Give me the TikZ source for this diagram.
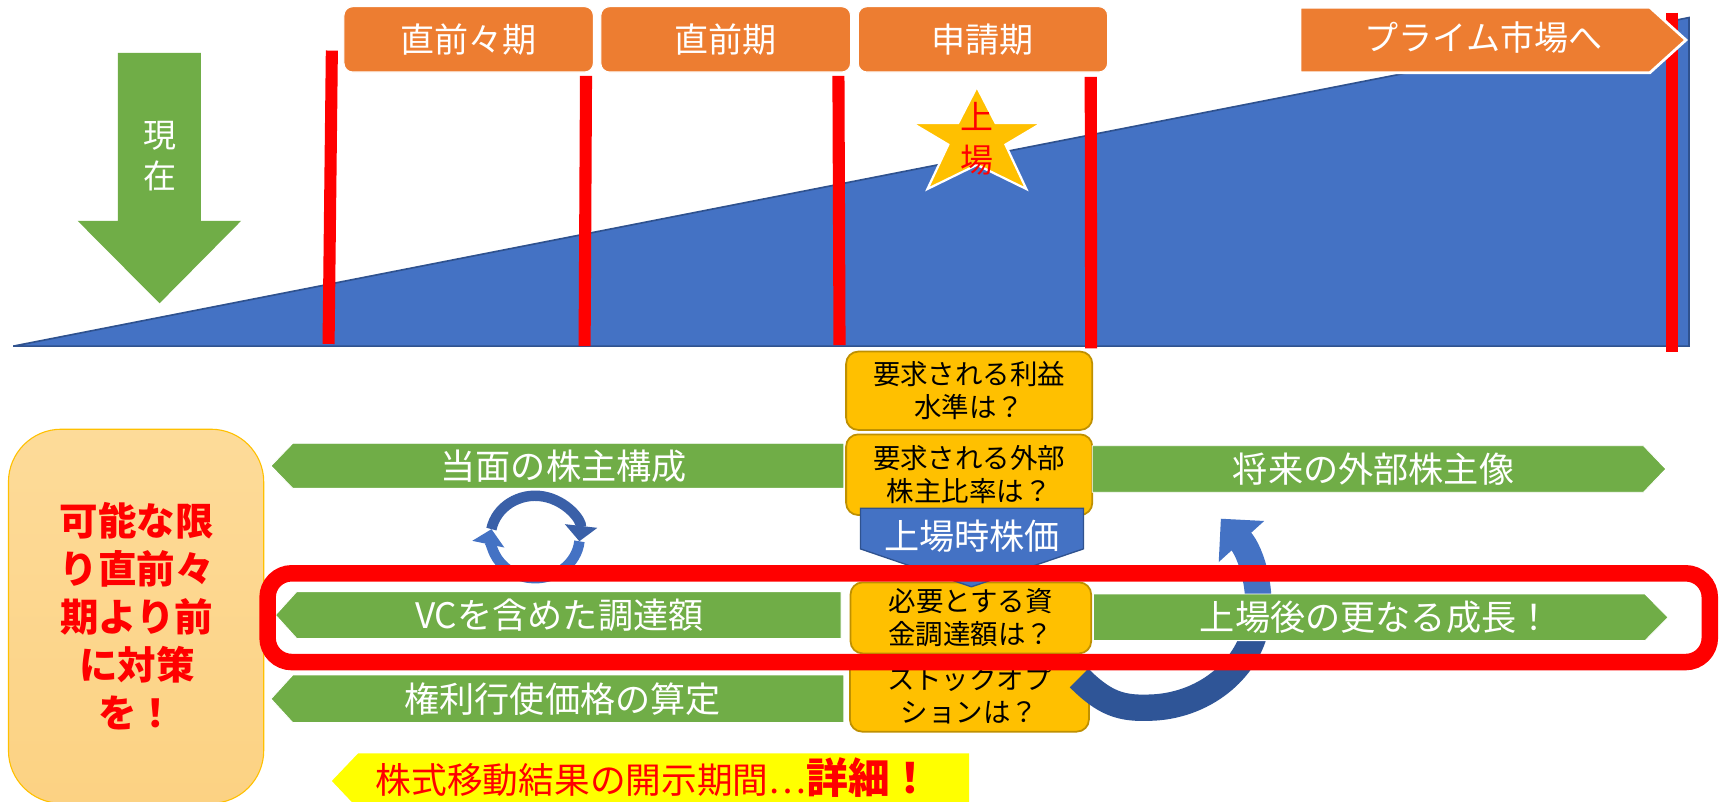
\documentclass[tikz,border=0pt]{standalone}
\usepackage{fontspec}
\setmainfont{Noto Sans CJK JP}
\usetikzlibrary{arrows.meta}
\definecolor{pblue}{HTML}{4472C4}
\definecolor{pblueD}{HTML}{2F528F}
\definecolor{pdarkblue}{HTML}{2F5597}
\definecolor{ringdark}{HTML}{3A60A8}
\definecolor{porange}{HTML}{ED7D31}
\definecolor{pgreen}{HTML}{70AD47}
\definecolor{pgold}{HTML}{FFC000}
\definecolor{pgoldD}{HTML}{BF9000}
\definecolor{pred}{HTML}{FF0000}
\definecolor{pyellow}{HTML}{FFFF00}
\definecolor{tantop}{HTML}{FDDB99}
\definecolor{tanbot}{HTML}{FCD283}
\tikzset{
  every node/.style={inner sep=0pt, outer sep=0pt},
  period/.style={fill=porange, draw=white, line width=1pt, rounded corners=8pt,
    minimum width=227pt, minimum height=59.5pt, text=white, font=\fontsize{31}{36}\selectfont},
  redbar/.style={draw=pred, line width=11pt},
  ybox/.style={fill=pgold, draw=pgoldD, line width=1.6pt, rounded corners=11pt,
    align=center, text=black, font=\fontsize{25}{30}\selectfont},
  garrow/.style={fill=pgreen, draw=white, line width=0.8pt},
  gtext/.style={text=white, font=\fontsize{32}{36}\selectfont},
  ringarc/.style={line width=9.5pt, -{Triangle[length=14pt,width=29pt]}},
}
\begin{document}
\begin{tikzpicture}[x=1pt,y=-1pt]
\useasboundingbox (0,0) rectangle (1568,729);
\clip (0,0) rectangle (1568,729);
\fill[white] (0,0) rectangle (1568,729);

% growth triangle
\draw[fill=pblue, draw=pblueD, line width=1.5pt] (12,315) -- (1537,315) -- (1537,16) -- cycle;

% red period bars
\draw[redbar] (302,46) -- (299,313);
\draw[redbar] (533.3,69) -- (532,315);
\draw[redbar] (763,69) -- (764,314);
\draw[redbar] (992.6,70) -- (993,317);
\draw[redbar] (1521.5,11.5) -- (1521.5,320);

% period headers
\node[period] (p1) at (426.5,35.8) {直前々期};
\node[period, minimum width=227.3pt] (p2) at (660.4,35.8) {直前期};
\node[period] (p3) at (894.5,35.8) {申請期};
\draw[fill=porange, draw=white, line width=2.5pt] (1183,6.7) -- (1501.5,6.7) -- (1534.3,36.4) -- (1501.5,66.1) -- (1183,66.1) -- cycle;
\node[text=white, font=\fontsize{31}{36}\selectfont] (prime) at (1350,34) {プライム市場へ};

% now arrow
\fill[pgreen] (107.3,48) -- (182.8,48) -- (182.8,201) -- (219.4,201) -- (145.2,276) -- (70.7,201) -- (107.3,201) -- cycle;
\node[align=center, text=white, font=\fontsize{30}{38}\selectfont] (now) at (145.2,142) {現\\在};

% listing star
\draw[fill=pgold, draw=white, line width=2pt] (889,79) -- (906,112) -- (948,112) -- (915,131.6) -- (934,172) -- (889,150) -- (844,172) -- (863,131.6) -- (830,112) -- (872,112) -- cycle;
\node[align=center, text=pred, font=\fontsize{30}{39}\selectfont] (listing) at (889,126) {上\\場};

% advice box
\draw[top color=tantop, bottom color=tanbot, draw=pgold, line width=1pt, rounded corners=48pt] (7.7,390.6) rectangle (240,731);
\node[align=center, text=pred, font=\bfseries\fontsize{35}{43.7}\selectfont] (advice) at (124.5,560.4) {可能な限\\り直前々\\期より前\\に対策\\を！};

% question boxes
\node[ybox, minimum width=224pt, minimum height=71.3pt] (qA) at (882,355.6) {要求される利益\\水準は？};
\node[ybox, minimum width=224pt, minimum height=73.4pt] (qB) at (882,432) {要求される外部\\株主比率は？};
\node[ybox, minimum width=219pt, minimum height=64.6pt] (qC) at (883.5,562.3) {必要とする資\\金調達額は？};
\node[ybox, minimum width=217.5pt, minimum height=66.8pt] (qD) at (882.2,632.4) {ストックオプ\\ションは？};

% price pentagon
\draw[fill=pblue, draw=pblueD, line width=1.2pt] (783,462.6) -- (986,462.6) -- (986,499.5) -- (884,534) -- (783,499.5) -- cycle;
\node[text=white, font=\fontsize{32}{36}\selectfont] (price) at (884.5,488) {上場時株価};

% cycle arrows
\draw[ringarc, pblue] (527.3,492.6) arc[start angle=6, end angle=191, x radius=40.5, y radius=37.5];
\draw[ringarc, ringdark] (447.2,481.5) arc[start angle=191, end angle=366, x radius=40.5, y radius=37.5];

% growth curved arrow
\draw[line width=24pt, pdarkblue] (982,617) .. controls (1005,640) and (1020,645) .. (1046,644) .. controls (1095,643) and (1135,610) .. (1143,570);
\draw[line width=24pt, pblue, -{Triangle[length=28pt,width=54pt]}] (1143,570) .. controls (1150,540) and (1139,503) .. (1111,472);

% green arrows
\draw[garrow] (266.4,403.4) -- (768,403.4) -- (768,444.4) -- (266.4,444.4) -- (246.6,424) -- cycle;
\node[gtext] (g1) at (513,424) {当面の株主構成};
\draw[garrow] (270,538.4) -- (765.5,538.4) -- (765.5,581) -- (270,581) -- (250.7,559.7) -- cycle;
\node[gtext] (g2) at (509,560) {VCを含めた調達額};
\draw[garrow] (266.4,614.3) -- (768,614.3) -- (768,657.6) -- (266.4,657.6) -- (246.6,636) -- cycle;
\node[gtext] (g3) at (512,636) {権利行使価格の算定};
\draw[garrow] (994,405.6) -- (1495.6,405.6) -- (1516,426.8) -- (1495.6,448) -- (994,448) -- cycle;
\node[gtext] (g4) at (1250,427) {将来の外部株主像};
\draw[garrow] (995,540.6) -- (1497,540.6) -- (1518,561.8) -- (1497,583) -- (995,583) -- cycle;
\node[gtext] (g5) at (1252,562) {上場後の更なる成長！};

% highlight frame
\draw[pred, line width=15pt, rounded corners=22pt] (243.5,521.7) rectangle (1556,602.5);

% disclosure arrow
\fill[pyellow] (326,685.5) -- (882,685.5) -- (882,736) -- (326,736) -- (302,710.7) -- cycle;
\node[anchor=base west, text=pred] (disc) at (342,722.5) {\fontsize{32.5}{36}\selectfont 株式移動結果の開示期間…\fontsize{38}{42}\selectfont\bfseries 詳細！};
\end{tikzpicture}
\end{document}
